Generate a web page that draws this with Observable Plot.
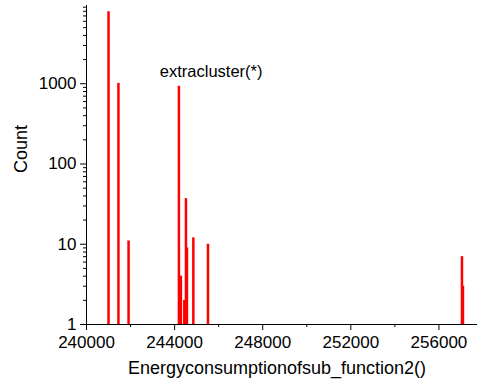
<!DOCTYPE html>
<html>
<head>
<meta charset="utf-8">
<script src="https://cdn.jsdelivr.net/npm/d3@7"></script>
<script src="https://cdn.jsdelivr.net/npm/@observablehq/plot@0.6"></script>
<style>
  html, body { margin: 0; padding: 0; background: #fff; }
  #chart { width: 477px; height: 385px; }
</style>
</head>
<body>
<div id="chart"></div>
<script>
// Bin positions (energy consumption) and counts
const energy = [241000, 241450, 241910, 244195, 244285, 244440, 244515, 244560, 244850, 245515, 257045, 257090];
const counts = [7900, 1010, 11, 930, 4, 2, 37, 9, 12, 10, 7, 3];

const xMajorTicks = [240000, 244000, 248000, 252000, 256000];
const xMinorTicks = [242000, 246000, 250000, 254000, 258000];
const yMajorTicks = [1, 10, 100, 1000];
const yMinorTicks = [2,3,4,5,6,7,8,9,20,30,40,50,60,70,80,90,200,300,400,500,600,700,800,900,2000,3000,4000,5000,6000,7000,8000,9000];

const annotText = ["extracluster(*)"];
const annotX = [245660];
const annotY = [1430];

const data = energy.map((e, i) => ({energy: e, count: counts[i]}));
const annot = annotText.map((t, i) => ({text: t, x: annotX[i], y: annotY[i]}));

const font = "'Liberation Sans', Arial, Helvetica, sans-serif";

const chart = Plot.plot({
  width: 477,
  height: 385,
  marginLeft: 86,
  marginRight: 0,
  marginTop: 5,
  marginBottom: 61,
  style: {fontFamily: font, fontSize: "17px", color: "#000", background: "#fff"},
  x: {domain: [240000, 257750]},
  y: {type: "log", domain: [1, 9440]},
  marks: [
    Plot.ruleX(data, {x: "energy", y1: 1, y2: "count", stroke: "#ff0000", strokeWidth: 2.5}),
    Plot.axisX({ticks: xMajorTicks, tickSize: 6, tickFormat: d => String(d), tickPadding: 5, fontSize: 17,
      label: null}),
    Plot.axisX({ticks: xMinorTicks, tickSize: 3, text: null, label: null}),
    Plot.axisY({ticks: yMajorTicks, tickSize: 6, tickFormat: d => String(d), tickPadding: 4, fontSize: 17,
      label: null}),
    Plot.axisY({ticks: yMinorTicks, tickSize: 3, text: null, label: null}),
    Plot.ruleY([1], {stroke: "#000", strokeWidth: 1}),
    Plot.ruleX([240000], {stroke: "#000", strokeWidth: 1}),
    Plot.text(["Energyconsumptionofsub_function2()"], {frameAnchor: "bottom", dx: -5, dy: 49, fontSize: 18, fill: "#000"}),
    Plot.text(["Count"], {frameAnchor: "left", dx: -65, dy: 8, rotate: -90, fontSize: 18, fill: "#000"}),
    Plot.text(annot, {x: "x", y: "y", text: "text", fontSize: 16.5, fill: "#000"})
  ]
});
document.getElementById("chart").appendChild(chart);
</script>
</body>
</html>
